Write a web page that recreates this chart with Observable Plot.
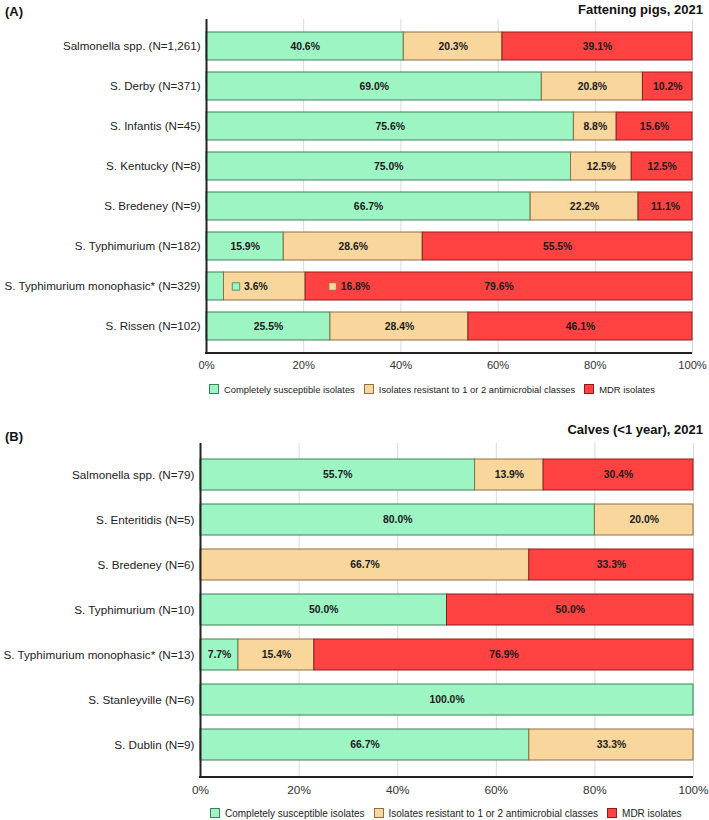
<!DOCTYPE html>
<html>
<head>
<meta charset="utf-8">
<script src="https://cdn.jsdelivr.net/npm/d3@7"></script>
<script src="https://cdn.jsdelivr.net/npm/@observablehq/plot@0.6"></script>
<style>
  body { margin: 0; background: #fff; font-family: "Liberation Sans", Arial, sans-serif; }
  #wrap { position: relative; width: 709px; height: 820px; overflow: hidden; }
  .panel { position: absolute; left: 0; }
  .tag { position: absolute; left: 5px; font-weight: bold; font-size: 13px; color: #111; }
  .ttl { position: absolute; right: 6px; font-weight: bold; font-size: 13px; color: #111; }
  .legend { position: absolute; display: flex; align-items: center; height: 12px; color: #222; white-space: nowrap; }
  .legend .sw { display: inline-block; width: 8px; height: 8px; border: 1px solid; margin-right: 5px; }
  .legend .it { display: flex; align-items: center; margin-right: 9px; }
</style>
</head>
<body>
<div id="wrap"></div>
<script>
// ---------- data ----------
const keys = ["Completely susceptible isolates", "Isolates resistant to 1 or 2 antimicrobial classes", "MDR isolates"];
const fills = ["#9ef5c4", "#f8d69c", "#ff4343"];
const strokes = ["#3f7f5a", "#8c7046", "#8a1f1f"];
const xTicks = [0, 20, 40, 60, 80, 100];

const titleA = "Fattening pigs, 2021";
const catsA = ["Salmonella spp. (N=1,261)", "S. Derby (N=371)", "S. Infantis (N=45)", "S. Kentucky (N=8)",
  "S. Bredeney (N=9)", "S. Typhimurium (N=182)", "S. Typhimurium monophasic* (N=329)", "S. Rissen (N=102)"];
const suscA = [40.6, 69.0, 75.6, 75.0, 66.7, 15.9, 3.6, 25.5];
const resA  = [20.3, 20.8, 8.8, 12.5, 22.2, 28.6, 16.8, 28.4];
const mdrA  = [39.1, 10.2, 15.6, 12.5, 11.1, 55.5, 79.6, 46.1];

const titleB = "Calves (<1 year), 2021";
const catsB = ["Salmonella spp. (N=79)", "S. Enteritidis (N=5)", "S. Bredeney (N=6)", "S. Typhimurium (N=10)",
  "S. Typhimurium monophasic* (N=13)", "S. Stanleyville (N=6)", "S. Dublin (N=9)"];
const suscB = [55.7, 80.0, 0, 50.0, 7.7, 100.0, 66.7];
const resB  = [13.9, 20.0, 66.7, 0, 15.4, 0, 33.3];
const mdrB  = [30.4, 0, 33.3, 50.0, 76.9, 0, 0];

// ---------- builder ----------
function buildPanel(cats, susc, res, mdr, opt) {
  const W = 709, H = 378, mt = 19, mb = 25;
  const series = [susc, res, mdr];
  const segs = [], labels = [], markers = [];
  const pxPerUnit = (W - opt.ml - opt.mr) / 100;
  cats.forEach((c, i) => {
    let x0 = 0;
    const row = series.map((s, k) => { const d = {cat: c, k, x1: x0, x2: x0 + s[i], v: s[i]}; x0 += s[i]; return d; });
    row.filter(d => d.v > 0).forEach(d => segs.push(d));
    const displacedInto = [false, false, false];
    let level = 0;
    row.forEach((d, k) => {
      if (d.v <= 0) return;
      const txt = d.v.toFixed(1) + "%";
      const displaced = (d.v < 5 || displacedInto[k]) && k < 2;
      if (displaced) {
        const nx = row[k + 1].x1;
        const off = 12 + 15 * level;
        markers.push({cat: c, k, x: nx + off / pxPerUnit});
        labels.push({cat: c, x: nx + (off + 8) / pxPerUnit, text: txt, anchor: "start"});
        displacedInto[k + 1] = true;
        level++;
      } else {
        labels.push({cat: c, x: (d.x1 + d.x2) / 2, text: txt, anchor: "middle"});
      }
    });
  });

  const labStart = labels.filter(d => d.anchor === "start");
  const labMid = labels.filter(d => d.anchor === "middle");

  const plot = Plot.plot({
    width: W, height: H,
    marginLeft: opt.ml, marginRight: opt.mr, marginTop: mt, marginBottom: mb,
    style: {fontFamily: "'Liberation Sans', Arial, sans-serif", fontSize: opt.labelFont + "px", color: "#222", background: "#fff"},
    x: {domain: [0, 100], ticks: xTicks, tickFormat: d => d + "%", tickSize: 0, tickPadding: 8, label: null, axis: null},
    y: {domain: cats, padding: 0.3, tickSize: 0, tickPadding: 6, label: null},
    marks: [
      Plot.gridX(xTicks.filter(t => t > 0), {stroke: "#d9d9d9", strokeOpacity: 1}),
      Plot.axisX(xTicks, {tickSize: 0, tickPadding: 8, tickFormat: d => d + "%", fontSize: opt.tickFont, fill: "#333", label: null}),
      Plot.barX(segs, {y: "cat", x1: "x1", x2: "x2", fill: d => fills[d.k], stroke: d => strokes[d.k], strokeWidth: 1}),
      Plot.dot(markers, {x: "x", y: "cat", symbol: "square", r: 4.2, fill: d => fills[d.k], stroke: d => strokes[d.k], strokeWidth: 0.8}),
      Plot.text(labMid, {x: "x", y: "cat", text: "text", fontWeight: "bold", fontSize: 10.4, fill: "#1a1a1a"}),
      Plot.text(labStart, {x: "x", y: "cat", text: "text", textAnchor: "start", fontWeight: "bold", fontSize: 10.4, fill: "#1a1a1a"}),
      Plot.ruleX([0], {stroke: "#222", strokeWidth: 2})
    ]
  });
  // bottom axis line, from scale range
  const xr = plot.scale("x").range;
  d3.select(plot).append("line")
    .attr("x1", xr[0] - 1).attr("x2", xr[1])
    .attr("y1", H - mb).attr("y2", H - mb)
    .attr("stroke", "#222").attr("stroke-width", 2);
  return plot;
}

function addPanel(top, tag, title, cats, s, r, m, opt) {
  const wrap = document.getElementById("wrap");
  const p = document.createElement("div");
  p.className = "panel"; p.style.top = top + "px";
  p.appendChild(buildPanel(cats, s, r, m, opt));
  wrap.appendChild(p);
  const t = document.createElement("div"); t.className = "tag"; t.textContent = tag; t.style.top = (top + opt.tagDy) + "px"; wrap.appendChild(t);
  const tt = document.createElement("div"); tt.className = "ttl"; tt.textContent = title; tt.style.top = (top + opt.titleDy) + "px"; wrap.appendChild(tt);
  const lg = document.createElement("div"); lg.className = "legend";
  lg.style.top = (top + opt.legendDy) + "px"; lg.style.left = opt.legendLeft + "px"; lg.style.fontSize = opt.legendFont + "px";
  keys.forEach((k, i) => {
    const it = document.createElement("span"); it.className = "it";
    const sw = document.createElement("span"); sw.className = "sw"; sw.style.background = fills[i]; sw.style.borderColor = strokes[i];
    it.appendChild(sw); it.appendChild(document.createTextNode(k)); lg.appendChild(it);
  });
  wrap.appendChild(lg);
}

addPanel(0, "(A)", titleA, catsA, suscA, resA, mdrA, {ml: 206, mr: 17, labelFont: 11.6, tickFont: 11.2, tagDy: 4, titleDy: 2, legendDy: 383, legendLeft: 209, legendFont: 9.4});
addPanel(424, "(B)", titleB, catsB, suscB, resB, mdrB, {ml: 200, mr: 16, labelFont: 11.7, tickFont: 11.8, tagDy: 5, titleDy: -2, legendDy: 383, legendLeft: 210, legendFont: 10});
</script>
</body>
</html>
